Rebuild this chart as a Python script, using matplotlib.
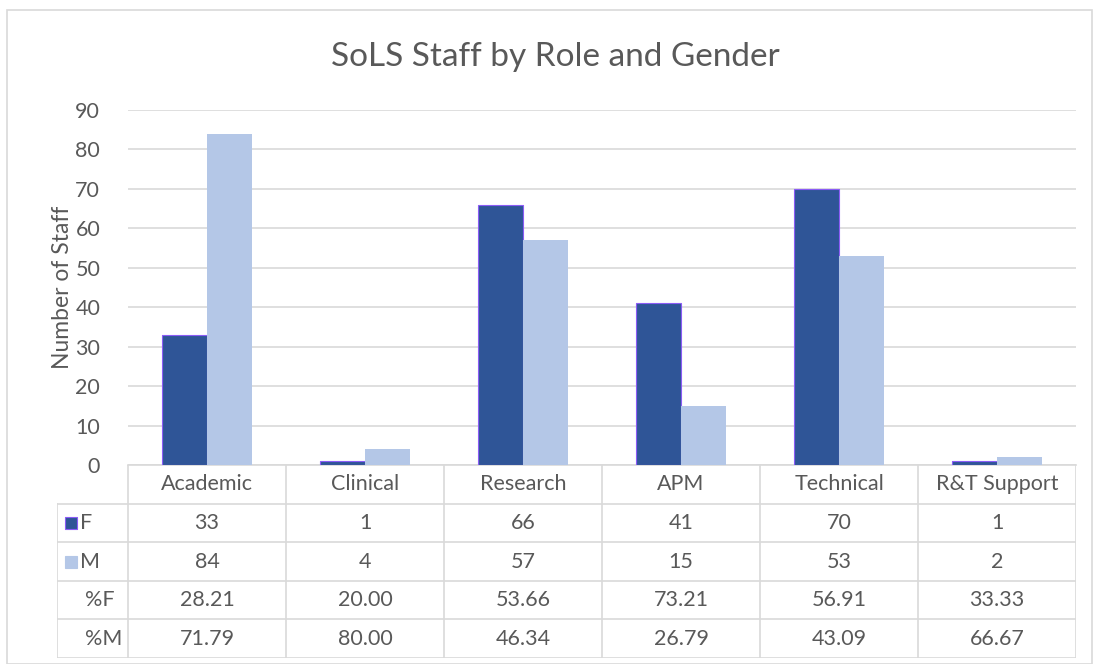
import matplotlib
matplotlib.use("Agg")
import matplotlib.pyplot as plt
from matplotlib.lines import Line2D
from matplotlib.patches import Rectangle

# ------------------------------------------------------------------
# data
# ------------------------------------------------------------------
roles = ["Academic", "Clinical", "Research", "APM", "Technical", "R&T Support"]
female = [33, 1, 66, 41, 70, 1]
male = [84, 4, 57, 15, 53, 2]
pct_female = ["28.21", "20.00", "53.66", "73.21", "56.91", "33.33"]
pct_male = ["71.79", "80.00", "46.34", "26.79", "43.09", "66.67"]
row_labels = ["F", "M", "%F", "%M"]
yticks = list(range(0, 100, 10))

F_COLOR = "#2F5597"
M_COLOR = "#B4C7E7"
EDGE_F = "#8B5CF6"
GRID = "#D9D9D9"
TXT = "#595959"
FONT = ["Lato", "DejaVu Sans"]
FS = 15.5

plt.rcParams["font.family"] = FONT

W, H = 1096, 664
fig = plt.figure(figsize=(W / 100, H / 100), dpi=100)


def box(x0, y0, x1, y1):
    """Pixel box (top-left origin) -> figure fraction rect."""
    return [x0 / W, 1 - y1 / H, (x1 - x0) / W, (y1 - y0) / H]


# outer chart frame
fig.add_artist(Rectangle((7 / W, 0), 1085 / W, 1 - 10 / H, transform=fig.transFigure,
                         fill=False, edgecolor="#D9D9D9", linewidth=1.2))

# ------------------------------------------------------------------
# bar chart
# ------------------------------------------------------------------
ax = fig.add_axes(box(128, 110, 1076, 465))
n = len(roles)
xs = list(range(n))
bw = 0.285
ax.bar([x - bw / 2 for x in xs], female, width=bw, color=F_COLOR, edgecolor=EDGE_F,
       linewidth=0.8, zorder=3)
ax.bar([x + bw / 2 for x in xs], male, width=bw, color=M_COLOR, linewidth=0, zorder=3)
ax.set_xlim(-0.5, n - 0.5)
ax.set_ylim(0, 90)
ax.set_yticks(yticks)
ax.set_xticks([])
ax.yaxis.grid(True, color=GRID, linewidth=1.2, zorder=0)
ax.tick_params(axis="y", length=0, labelsize=FS, labelcolor=TXT, pad=20)
for side in ("top", "right", "left"):
    ax.spines[side].set_visible(False)
ax.spines["bottom"].set_color(GRID)
ax.spines["bottom"].set_linewidth(1.2)
ax.set_ylabel("Number of Staff", fontsize=16.5, color=TXT, labelpad=2)

fig.text(555 / W, 1 - 57 / H, "SoLS Staff by Role and Gender", ha="center", va="center",
         fontsize=24, color=TXT)

# ------------------------------------------------------------------
# data table under the axis
# ------------------------------------------------------------------
label_w = 71 / 158
tab = fig.add_axes(box(57, 465, 1076, 658))
tab.set_xlim(-0.5 - label_w, n - 0.5)
tab.set_ylim(5, 0)
tab.axis("off")

lkw = dict(color=GRID, linewidth=1.2)
left = -0.5 - label_w
# horizontal lines
for r in range(1, 6):
    tab.add_line(Line2D([left, n - 0.5], [r, r], **lkw))
# vertical lines
tab.add_line(Line2D([left, left], [1, 5], **lkw))
for c in range(n + 1):
    tab.add_line(Line2D([c - 0.5, c - 0.5], [0, 5], **lkw))

tk = dict(ha="center", va="center", fontsize=FS, color=TXT)
for i, role in enumerate(roles):
    tab.text(i, 0.5, role, **tk)
rows = [[str(v) for v in female], [str(v) for v in male], pct_female, pct_male]
for r, vals in enumerate(rows):
    for i, v in enumerate(vals):
        tab.text(i, r + 1.5, v, **tk)

# row labels with legend keys
sq_w, sq_h = 12 / 158, 12 / 38.6
for r, (lab, col, ec) in enumerate([("F", F_COLOR, EDGE_F), ("M", M_COLOR, M_COLOR)]):
    tab.add_patch(Rectangle((left + 8 / 158, r + 1.5 - sq_h / 2), sq_w, sq_h, facecolor=col,
                            edgecolor=ec, linewidth=0.8))
    tab.text(left + 23 / 158, r + 1.5, lab, ha="left", va="center", fontsize=FS, color=TXT)
for r, lab in enumerate(row_labels[2:]):
    tab.text(left + 28 / 158, r + 3.5, lab, ha="left", va="center", fontsize=FS, color=TXT)

fig.savefig("out.png", dpi=100)
